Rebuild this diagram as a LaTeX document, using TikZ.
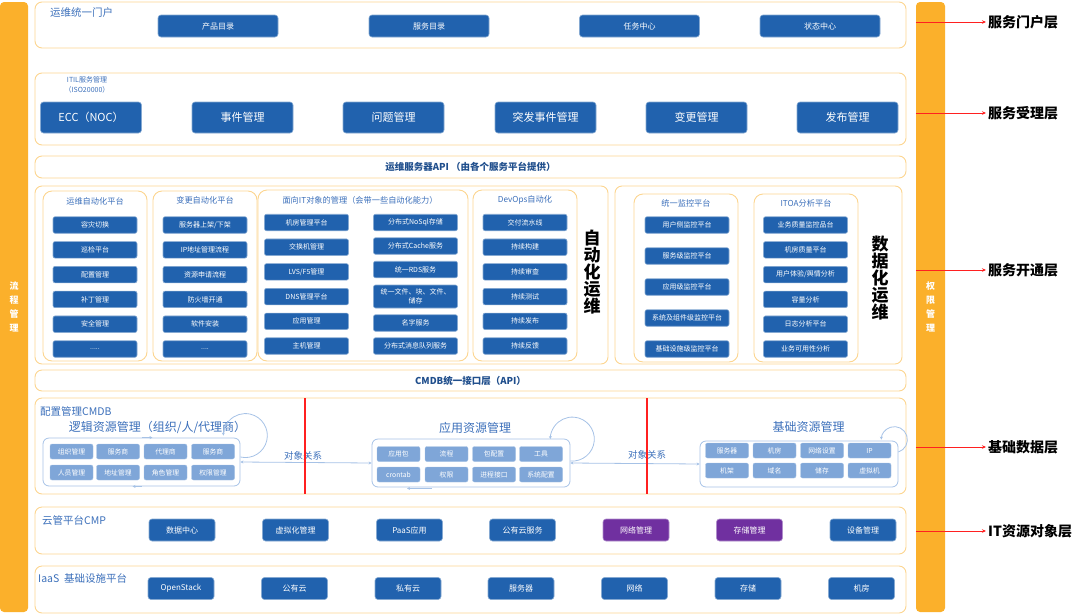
\documentclass[tikz,border=0pt]{standalone}
\usepackage{fontspec}
\setmainfont{Noto Sans CJK SC}
\usetikzlibrary{arrows.meta, positioning, fit}

\definecolor{barorange}{HTML}{FBB02B}
\definecolor{panelline}{HTML}{FCD590}
\definecolor{btnblue}{HTML}{2162AE}
\definecolor{btnpurple}{HTML}{7030A0}
\definecolor{cellblue}{HTML}{7FA6D8}
\definecolor{loopblue}{HTML}{A6C2E6}
\definecolor{headblue}{HTML}{3B6FBA}
\definecolor{apiblue}{HTML}{1F4E8C}
\definecolor{arrowred}{HTML}{FF2020}

\newcommand{\fsz}[1]{\fontsize{#1}{#1}\selectfont}
\newcommand{\fivedots}{.....}
\newcommand{\fourdots}{....}

\begin{document}
\begin{tikzpicture}[
  x=1pt, y=1pt,
  panel/.style={draw=panelline, line width=0.9pt, rounded corners=7pt, inner sep=0pt},
  subpanel/.style={draw=panelline, line width=0.9pt, rounded corners=9pt, inner sep=0pt},
  btn/.style={fill=btnblue, draw=btnblue!55!white, line width=0.6pt, rounded corners=3pt,
              text=white, inner sep=0pt, align=center},
  portalbtn/.style={btn, minimum width=120pt, minimum height=22pt, font=\fsz{8}},
  itilbtn/.style={btn, minimum width=101pt, minimum height=31pt, font=\fsz{11}},
  sbtn/.style={btn, minimum width=84pt, minimum height=16.5pt, font=\fsz{7}, rounded corners=2pt},
  cloudbtn/.style={btn, minimum width=66pt, minimum height=22pt, font=\fsz{8}},
  cell/.style={fill=cellblue, draw=cellblue!70!white, rounded corners=2pt, text=white,
               minimum width=43pt, minimum height=15pt, inner sep=0pt, font=\fsz{6.8}},
  resbox/.style={draw=loopblue, line width=0.8pt, rounded corners=6pt, inner sep=0pt},
  paneltitle/.style={text=headblue, font=\fsz{10.5}, inner sep=0pt, anchor=west},
  subtitle/.style={text=headblue, font=\fsz{8.2}, inner sep=0pt},
  bigtitle/.style={text=headblue, font=\fsz{12}, inner sep=0pt},
  apitext/.style={text=apiblue, font=\bfseries\fsz{9.5}, inner sep=0pt},
  reltext/.style={text=headblue, font=\fsz{9.5}, inner sep=0pt},
  bartext/.style={text=white, font=\bfseries\fontsize{9}{14}\selectfont, align=center, inner sep=0pt},
  vtext/.style={font=\bfseries\fontsize{17}{17}\selectfont, align=center, inner sep=0pt},
  layer/.style={font=\bfseries\fsz{14}, anchor=west, inner sep=0pt},
  redarrow/.style={draw=arrowred, line width=1pt, -{Stealth[length=4pt,width=3.5pt]}},
  relline/.style={draw=loopblue, line width=0.8pt},
  loopline/.style={draw=loopblue, line width=0.8pt, -{Stealth[length=3pt,width=3pt]}}
]
  \useasboundingbox (0,0) rectangle (1080,-614);

  % side bars
  \node[fill=barorange, rounded corners=4pt, inner sep=0pt, fit={(0,-2) (28,-612)}] (lbar) {};
  \node[bartext] at (lbar.center) {流\\程\\管\\理};
  \node[fill=barorange, rounded corners=4pt, inner sep=0pt, fit={(916,-2) (945,-612)}] (rbar) {};
  \node[bartext] at (rbar.center) {权\\限\\管\\理};

  % portal
  \node[panel, fit={(35,-2) (906,-48)}] (portal) {};
  \node[paneltitle] (portalt) at (50,-13) {运维统一门户};
  \foreach \t/\x [count=\i] in {产品目录/218, 服务目录/429, 任务中心/639.5, 状态中心/820}
    \node[portalbtn] (portal\i) at (\x,-26) {\t};

  % ITIL
  \node[panel, fit={(35,-73) (906,-145)}] (itil) {};
  \node[subtitle, align=center, font=\fontsize{7}{10}\selectfont] (itilt) at (87,-85) {ITIL服务管理\\（ISO20000）};
  \foreach \t/\x [count=\i] in {ECC（NOC）/91, 事件管理/242.5, 问题管理/393.5, 突发事件管理/545.5, 变更管理/696.5, 发布管理/847.5}
    \node[itilbtn] (itil\i) at (\x,-117.5) {\t};

  % service API
  \node[panel, fit={(35,-156) (906,-178)}] (api) {};
  \node[apitext] at (api.center) {运维服务器API （由各个服务平台提供）};

  % automation
  \node[panel, fit={(35,-186) (608,-364)}] (auto) {};
  \node[subpanel, fit={(43,-191) (147,-361)}] (opsauto) {};
  \node[subtitle] at (95,-201) {运维自动化平台};
  \foreach \t [count=\i] in {容灾切换, 巡检平台, 配置管理, 补丁管理, 安全管理, \fivedots}
    \node[sbtn] (oa\i) at (95,{-225-24.8*(\i-1)}) {\t};

  \node[subpanel, fit={(153,-191) (257,-361)}] (chgauto) {};
  \node[subtitle] at (205,-200) {变更自动化平台};
  \foreach \t [count=\i] in {服务器上架/下架, IP地址管理流程, 资源申请流程, 防火墙开通, 软件安装, \fourdots}
    \node[sbtn] (ca\i) at (205,{-225-24.8*(\i-1)}) {\t};

  \node[subpanel, fit={(258,-190) (468,-361)}] (itobj) {};
  \node[subtitle] at (360,-200) {面向IT对象的管理（会带一些自动化能力）};
  \foreach \t [count=\i] in {机房管理平台, 交换机管理, LVS/F5管理, DNS管理平台, 应用管理, 主机管理}
    \node[sbtn] (ol\i) at (306.5,{-222.5-24.7*(\i-1)}) {\t};
  \foreach \t/\y [count=\i] in {分布式NoSql存储/222.5, 分布式Cache服务/246, 统一RDS服务/269.5, 名字服务/323, 分布式消息队列服务/346}
    \node[sbtn] (or\i) at (415.5,-\y) {\t};
  \node[sbtn, minimum height=23pt, font=\fontsize{7}{9}\selectfont] (orfile) at (415.5,-296.5) {统一文件、块、文件、\\储存};

  \node[subpanel, fit={(473,-190) (577,-361)}] (devops) {};
  \node[subtitle] at (525,-200) {DevOps自动化};
  \foreach \t [count=\i] in {交付流水线, 持续构建, 持续审查, 持续测试, 持续发布, 持续反馈}
    \node[sbtn] (dv\i) at (525,{-222.5-24.7*(\i-1)}) {\t};

  \node[vtext] (autolbl) at (592,-272) {自\\动\\化\\运\\维};

  % data
  \node[panel, fit={(615,-186) (902,-364)}] (data) {};
  \node[subpanel, fit={(634,-194) (738,-362)}] (monitor) {};
  \node[subtitle] at (686,-203) {统一监控平台};
  \foreach \t [count=\i] in {用户侧监控平台, 服务级监控平台, 应用级监控平台, 系统及组件级监控平台, 基础设施级监控平台}
    \node[sbtn] (mo\i) at (687,{-225-31*(\i-1)}) {\t};

  \node[subpanel, fit={(754,-194) (858,-362)}] (itoa) {};
  \node[subtitle] at (806,-203) {ITOA分析平台};
  \foreach \t [count=\i] in {业务质量监控品台, 机房质量平台, 用户体验/舆情分析, 容量分析, 日志分析平台, 业务可用性分析}
    \node[sbtn] (it\i) at (805.5,{-225-24.8*(\i-1)}) {\t};

  \node[vtext] (datalbl) at (880,-278) {数\\据\\化\\运\\维};

  % CMDB API
  \node[panel, fit={(35,-370) (906,-391)}] (cmdbapi) {};
  \node[apitext] at (cmdbapi.center) {CMDB统一接口层（API）};

  % CMDB
  \node[panel, fit={(35,-398) (906,-494)}] (cmdb) {};
  \node[paneltitle] at (40,-411) {配置管理CMDB};

  \node[bigtitle] at (157.5,-427) {逻辑资源管理（组织/人/代理商）};
  \node[resbox, fit={(43,-438) (240,-486)}] (logic) {};
  \foreach \t/\x [count=\i] in {组织管理/71.5, 服务商/118, 代理商/165.5, 服务商/213}
    \node[cell] (lg\i) at (\x,-451.5) {\t};
  \foreach \t/\x [count=\i] in {人员管理/71.5, 地址管理/118, 角色管理/165.5, 权限管理/213}
    \node[cell] (lh\i) at (\x,-472.5) {\t};

  \node[bigtitle] at (475,-428) {应用资源管理};
  \node[resbox, fit={(372,-439) (570,-487)}] (app) {};
  \foreach \t/\x [count=\i] in {应用包/398.5, 流程/446.5, 包配置/494, 工具/541}
    \node[cell] (ap\i) at (\x,-454) {\t};
  \foreach \t/\x [count=\i] in {crontab/398.5, 权限/446.5, 进程接口/494, 系统配置/541}
    \node[cell] (aq\i) at (\x,-474.5) {\t};

  \node[bigtitle] at (808.5,-427) {基础资源管理};
  \node[resbox, fit={(700,-441) (898,-487)}] (basic) {};
  \foreach \t/\x [count=\i] in {服务器/727, 机房/774.5, 网络设置/822, IP/869.5}
    \node[cell] (bs\i) at (\x,-450.5) {\t};
  \foreach \t/\x [count=\i] in {机架/727, 域名/774.5, 储存/822, 虚拟机/869.5}
    \node[cell] (bt\i) at (\x,-470.5) {\t};

  % relations
  \draw[relline, {Stealth[length=3pt,width=3pt]}-{Stealth[length=3pt,width=3pt]}] (logic.east) -- (app.west);
  \draw[relline, {Stealth[length=3pt,width=3pt]}-{Stealth[length=3pt,width=3pt]}] (app.east) -- (basic.west);
  \node[reltext] (rel1) at (303,-456) {对象关系};
  \node[reltext] (rel2) at (647,-455) {对象关系};
  \draw[loopline] ([yshift=5pt]logic.east) arc[start angle=-103, end angle=180, radius=22];
  \draw[loopline] ([yshift=2pt]app.east) arc[start angle=-95, end angle=180, radius=22];
  \draw[loopline] ([yshift=12pt]basic.east) arc[start angle=-72, end angle=180, radius=13];
  \draw[loopline] (logic.north) -- ([xshift=11pt]logic.north);
  \draw[loopline] (logic.south) -- ([xshift=-9pt]logic.south);
  \draw[loopline] ([xshift=-39pt,yshift=-1pt]app.south) -- ([xshift=-64pt,yshift=-1pt]app.south);
  \foreach \xx in {305, 647}
    \draw[draw=arrowred, line width=1.2pt] (\xx,-398) -- (\xx,-494);

  % CMP
  \node[panel, fit={(35,-507) (906,-554)}] (cmp) {};
  \node[paneltitle] at (42,-520) {云管平台CMP};
  \foreach \t/\x/\c [count=\i] in {数据中心/182/btnblue, 虚拟化管理/295.5/btnblue, PaaS应用/409.5/btnblue, 公有云服务/522.5/btnblue, 网络管理/636/btnpurple, 存储管理/749.5/btnpurple, 设备管理/863/btnblue}
    \node[cloudbtn, fill=\c, draw=\c!55!white] (cmp\i) at (\x,-530) {\t};

  % IaaS
  \node[panel, fit={(35,-566) (906,-613)}] (iaas) {};
  \node[paneltitle] at (38,-578) {IaaS\ \ 基础设施平台};
  \foreach \t/\x [count=\i] in {OpenStack/181, 公有云/294.5, 私有云/408, 服务器/521, 网络/634.5, 存储/748, 机房/861.5}
    \node[cloudbtn] (iaas\i) at (\x,-588.5) {\t};

  % layers
  \foreach \t/\y [count=\i] in {服务门户层/22, 服务受理层/113, 服务开通层/270, 基础数据层/447, IT资源对象层/531} {
    \node[layer] (layer\i) at (988,-\y) {\t};
    \draw[redarrow] (rbar.west |- layer\i.west) -- ([xshift=-2pt]layer\i.west);
  }
\end{tikzpicture}
\end{document}
